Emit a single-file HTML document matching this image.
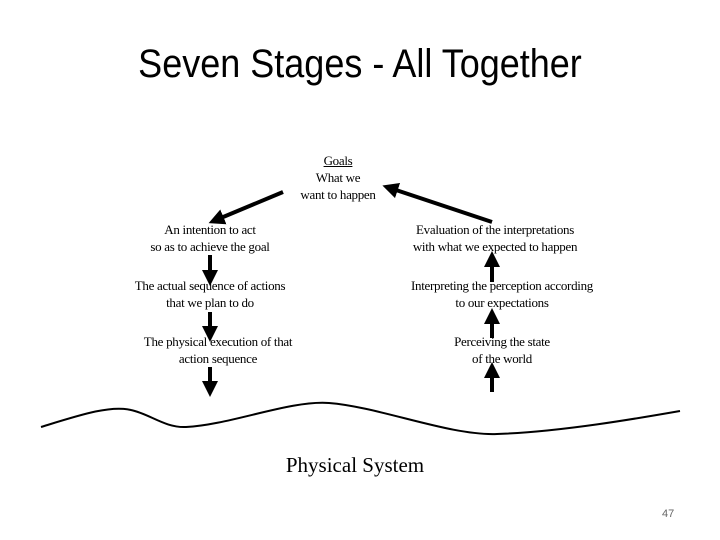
<!DOCTYPE html>
<html><head><style>
body{margin:0;width:720px;height:540px;background:#fff;position:relative;overflow:hidden;font-family:"Liberation Serif",serif;}
.t{position:absolute;font-size:13px;line-height:17px;text-align:center;white-space:nowrap;color:#000;letter-spacing:-0.3px;transform:translateX(-50%);}
h1{position:absolute;top:42px;left:0;width:720px;text-align:center;margin:0;font-family:"Liberation Sans",sans-serif;font-weight:normal;font-size:40px;transform:scaleX(0.9);}
</style></head><body>
<h1>Seven Stages - All Together</h1>
<div class="t" style="left:338px;top:152px"><u>Goals</u><br>What we<br>want to happen</div>
<div class="t" style="left:210px;top:221px">An intention to act<br>so as to achieve the goal</div>
<div class="t" style="left:495px;top:221px">Evaluation of the interpretations<br>with what we expected to happen</div>
<div class="t" style="left:210px;top:277px">The actual sequence of actions<br>that we plan to do</div>
<div class="t" style="left:502px;top:277px">Interpreting the perception according<br>to our expectations</div>
<div class="t" style="left:218px;top:333px">The physical execution of that<br>action sequence</div>
<div class="t" style="left:502px;top:333px">Perceiving the state<br>of the world</div>
<div class="t" style="left:355px;top:452px;font-size:21px;line-height:26px;letter-spacing:0">Physical System</div>
<div style="position:absolute;left:662px;top:508px;font-family:'Liberation Sans',sans-serif;font-size:11px;color:#666">47</div>
<svg width="720" height="540" style="position:absolute;left:0;top:0">
<defs><marker id="a" markerWidth="4" markerHeight="4" refX="2" refY="2" orient="auto"><path d="M0,0L4,2L0,4z" fill="#000"/></marker></defs>
<g stroke="#000" stroke-width="4" marker-end="url(#a)">
<line x1="283" y1="192" x2="216" y2="220"/>
<line x1="492" y1="222" x2="390" y2="188"/>
<line x1="210" y1="255" x2="210" y2="278"/>
<line x1="210" y1="312" x2="210" y2="334"/>
<line x1="210" y1="367" x2="210" y2="389"/>
<line x1="492" y1="282" x2="492" y2="259"/>
<line x1="492" y1="338" x2="492" y2="316"/>
<line x1="492" y1="392" x2="492" y2="370"/>
</g>
<path d="M41,427 C80,415 110,405 131,410 C150,414 165,428 186,427 C230,425 290,400 329,403 C380,407 450,436 497,434 C560,432 640,418 680,411" fill="none" stroke="#000" stroke-width="2"/>
</svg>
</body></html>
